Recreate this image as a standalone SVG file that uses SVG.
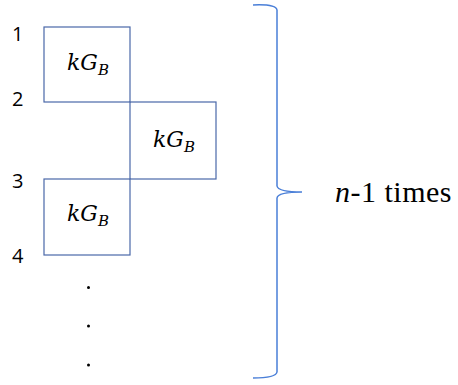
<svg xmlns="http://www.w3.org/2000/svg" width="458" height="385" viewBox="0 0 458 385">
<style>
.box{fill:none;stroke:#4a68a8;stroke-width:1.2}
.num{font-family:"Open Sans",sans-serif;font-size:20px;fill:#000}
.math{font-family:"DejaVu Serif",serif;font-style:italic;font-size:22px;fill:#000}
.sub{font-size:15px}
.lbl{font-family:"Liberation Serif",serif;font-size:30px;letter-spacing:0.5px;fill:#000}
.brace{fill:none;stroke:#4a7fd8;stroke-width:1.5}
</style>
<rect width="458" height="385" fill="#fff"/>
<g id="labels">
<text class="num" x="12" y="41">1</text>
<text class="num" x="12" y="106">2</text>
<text class="num" x="12" y="188">3</text>
<text class="num" x="12" y="263">4</text>
</g>
<g id="node1">
<rect class="box" x="44" y="27" width="86" height="75"/>
<text class="math" x="67" y="70">kG<tspan class="sub" dy="5">B</tspan></text>
</g>
<g id="node2">
<rect class="box" x="130" y="102" width="86" height="77"/>
<text class="math" x="153" y="147">kG<tspan class="sub" dy="5">B</tspan></text>
</g>
<g id="node3">
<rect class="box" x="44" y="179" width="86" height="76"/>
<text class="math" x="67" y="221">kG<tspan class="sub" dy="5">B</tspan></text>
</g>
<g id="dots" fill="#000">
<circle cx="88.5" cy="287.5" r="1.5"/>
<circle cx="88.5" cy="326" r="1.5"/>
<circle cx="88.5" cy="365" r="1.5"/>
</g>
<g id="connectors">
<path class="brace" d="M253,5 Q276,4 277,10 L277,186 Q278,192 302,192 Q278,192 277,198 L277,372 Q276,378 253,378"/>
</g>
<g id="note">
<text class="lbl" x="335" y="202"><tspan font-style="italic">n</tspan>-1 times</text>
</g>
</svg>
